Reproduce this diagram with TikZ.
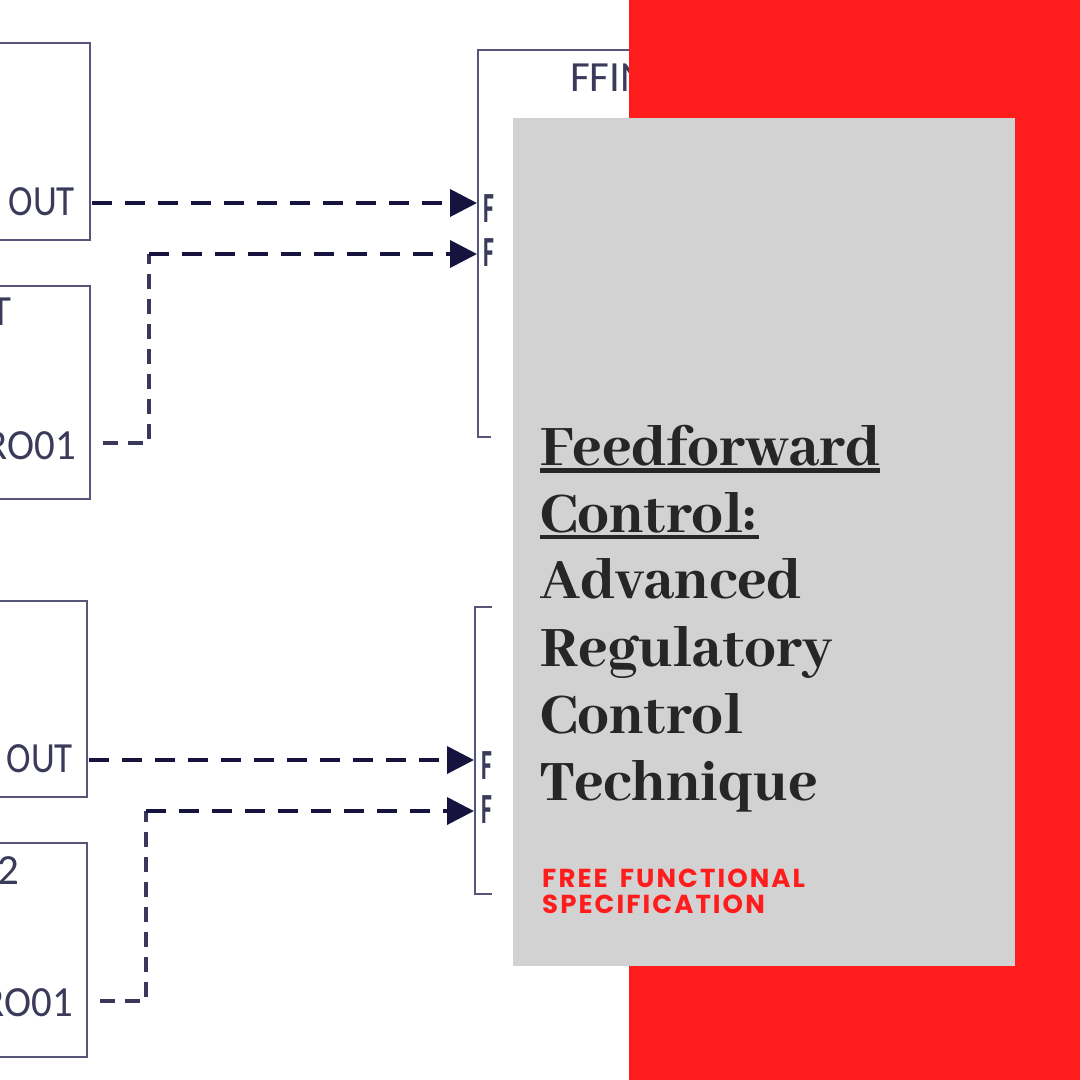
\documentclass[tikz,border=0pt]{standalone}
\usepackage{fontspec}
\usetikzlibrary{arrows.meta}
\setmainfont{Carlito}
\newfontfamily\ttlfont[Script=Latin]{Abhaya Libre ExtraBold}
\newfontfamily\subfont[LetterSpace=8,WordSpace=1.6]{Poppins}
\definecolor{redbg}{HTML}{FF1C1C}
\definecolor{greybg}{HTML}{D2D2D2}
\definecolor{ink}{HTML}{262626}
\definecolor{boxline}{HTML}{56567A}
\definecolor{dash}{HTML}{16143E}
\definecolor{labelc}{HTML}{3A3A5A}
\tikzset{
  fbox/.style={draw=boxline,line width=2.8pt,inner sep=0pt},
  wire/.style={draw=dash,line width=3.8pt,dash pattern=on 20pt off 13pt},
  wirev/.style={draw=dash!85!white,line width=3.4pt,dash pattern=on 15pt off 10pt},
  tip/.style={-{Triangle[length=27pt,width=27pt]}},
  lbl/.style={text=labelc,font=\fontsize{43}{43}\selectfont,inner sep=0pt},
  pin/.style={text=labelc,font=\fontsize{43}{43}\selectfont\bfseries,inner sep=0pt,anchor=base west,xscale=.55},
  ttl/.style={text=ink,font=\fontsize{63}{63}\selectfont\ttlfont,anchor=base west,inner sep=0pt},
  sub/.style={text=redbg,font=\fontsize{26}{26}\selectfont\subfont\bfseries,anchor=base west,inner sep=0pt}
}
\begin{document}
\begin{tikzpicture}[x=1pt,y=-1pt]
\useasboundingbox (0,0) rectangle (1080,1080);
\clip (0,0) rectangle (1080,1080);
\fill[white] (0,0) rectangle (1080,1080);
% left function blocks
\node[fbox,minimum width=130pt,minimum height=197pt] (a) at (25,141.5) {};
\node[fbox,minimum width=130pt,minimum height=213pt] (b) at (25,392.5) {};
\node[fbox,minimum width=130pt,minimum height=196pt] (c) at (22,699) {};
\node[fbox,minimum width=130pt,minimum height=214pt] (d) at (22,950) {};
% right blocks
\draw[boxline,line width=2.8pt] (700,50) -- (478,50) -- (478,437) -- (491,437);
\draw[boxline,line width=2.8pt] (492,607) -- (475,607) -- (475,894) -- (492,894);
\coordinate (e1) at (477,203);
\coordinate (e2) at (477,254);
\coordinate (f1) at (474,760);
\coordinate (f2) at (474,811);
% labels
\node[lbl,anchor=base east,xscale=.86] (la) at (75,215) {OUT};
\node[lbl,anchor=base west] (lb) at (-10,325) {T};
\node[lbl,anchor=base east,xscale=.95] (lb2) at (76,459) {RO01};
\node[lbl,anchor=base east,xscale=.86] (lc) at (73,772) {OUT};
\node[lbl,anchor=base west] (ld) at (-3,884) {2};
\node[lbl,anchor=base east,xscale=.95] (ld2) at (73,1016) {RO01};
\node[lbl,anchor=base west] (h) at (570,91) {FFIN};
\node[pin] (p1) at (483,222) {F};
\node[pin] (p2) at (483,266) {F};
\node[pin] (q1) at (481,779) {F};
\node[pin] (q2) at (481,823) {F};
% connectors
\coordinate (a1) at (92,203);
\coordinate (b1) at (103,443);
\coordinate (b2) at (149,443);
\coordinate (b3) at (149,254);
\coordinate (c1) at (89,760);
\coordinate (d1) at (100,1001);
\coordinate (d2) at (146,1001);
\coordinate (d3) at (146,811);
\path[wire,tip] (a1) -- (e1);
\path[wirev] (b1) -- (b2) -- (b3);
\path[wire,tip] (b3) -- (e2);
\path[wire,tip] (c1) -- (f1);
\path[wirev] (d1) -- (d2) -- (d3);
\path[wire,tip] (d3) -- (f2);
% panels
\fill[redbg] (629,0) rectangle (1080,1080);
\fill[greybg] (513,118) rectangle (1015,966);
% title
\node[ttl] (t1) at (540,465) {Feedforward};
\node[ttl] (t2) at (540,532) {Control:};
\node[ttl] (t3) at (540,598) {Advanced};
\node[ttl] (t4) at (540,666) {Regulatory};
\node[ttl] (t5) at (540,733) {Control};
\node[ttl] (t6) at (540,800) {Technique};
\fill[ink] (540,467.5) rectangle (880,472.5);
\fill[ink] (540,534.5) rectangle (759,539);
\node[sub] (s1) at (542,887) {FREE FUNCTIONAL};
\node[sub] (s2) at (542,913) {SPECIFICATION};
\end{tikzpicture}
\end{document}
